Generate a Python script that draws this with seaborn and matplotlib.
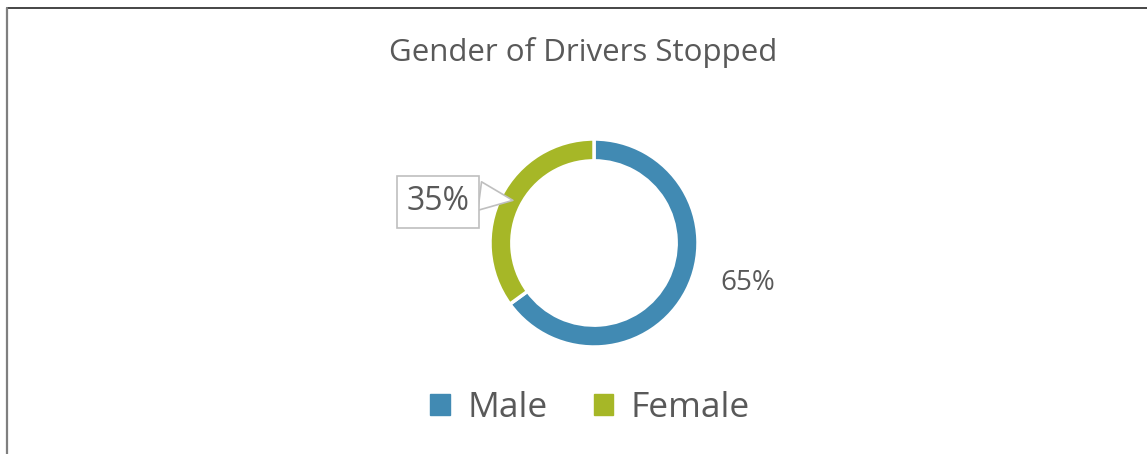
import matplotlib
matplotlib.use("Agg")
import matplotlib.pyplot as plt
import seaborn as sns
from matplotlib.lines import Line2D
from matplotlib.patches import Patch

categories = ["Male", "Female"]
shares = [65, 35]
labels = ["65%", "35%"]
title = "Gender of Drivers Stopped"

sns.set_theme(style="white")
plt.rcParams['font.family'] = ['Open Sans', 'DejaVu Sans']
colors = ["#418AB3", "#A6B727"]
text_color = "#595959"

W, H = 1147, 454
fig = plt.figure(figsize=(W / 100, H / 100), dpi=100)
fig.patch.set_facecolor("white")

# frame lines (top and left)
fig.add_artist(Line2D([7 / W, 1], [1 - 8 / H, 1 - 8 / H], color="#262626", lw=1.2))
fig.add_artist(Line2D([7 / W, 7 / W], [0, 1 - 8 / H], color="#7f7f7f", lw=1.6))

fig.text(583 / W, 1 - 52 / H, title, ha="center", va="center",
         fontsize=22.5, color=text_color)

cx, cy, r = 594, 243, 104
ax = fig.add_axes([(cx - r) / W, 1 - (cy + r) / H, 2 * r / W, 2 * r / H])
wedges, _ = ax.pie(shares, colors=colors, startangle=90, counterclock=False,
                   radius=1.0,
                   wedgeprops=dict(width=0.21, edgecolor="white", linewidth=2.5))
ax.set_xlim(-1, 1)
ax.set_ylim(-1, 1)
ax.set_aspect("equal")
ax.axis("off")

# 65% label
fig.text(748 / W, 1 - 283 / H, labels[0], ha="center", va="center",
         fontsize=20, color=text_color)

# 35% callout
ax.annotate(labels[1], xy=(-0.78, 0.41), xycoords="data",
            xytext=(438 / W, 1 - 202 / H), textcoords="figure fraction",
            ha="center", va="center", fontsize=23, color=text_color,
            bbox=dict(boxstyle="square,pad=0.3", fc="white", ec="#bfbfbf", lw=1.2),
            arrowprops=dict(arrowstyle="wedge,tail_width=0.9", fc="white",
                            ec="#bfbfbf", lw=1.2, shrinkA=0, shrinkB=0,
                            relpos=(1.0, 0.72)))

handles = [Patch(facecolor=c, edgecolor=c) for c in colors]
leg = fig.legend(handles, categories, loc="center", bbox_to_anchor=(590 / W, 1 - 408 / H),
                 ncol=2, frameon=False, fontsize=25.5, handlelength=0.55, handleheight=0.55,
                 handletextpad=0.5, columnspacing=1.3)
for t in leg.get_texts():
    t.set_color(text_color)

fig.savefig("out.png", dpi=100, facecolor="white")
